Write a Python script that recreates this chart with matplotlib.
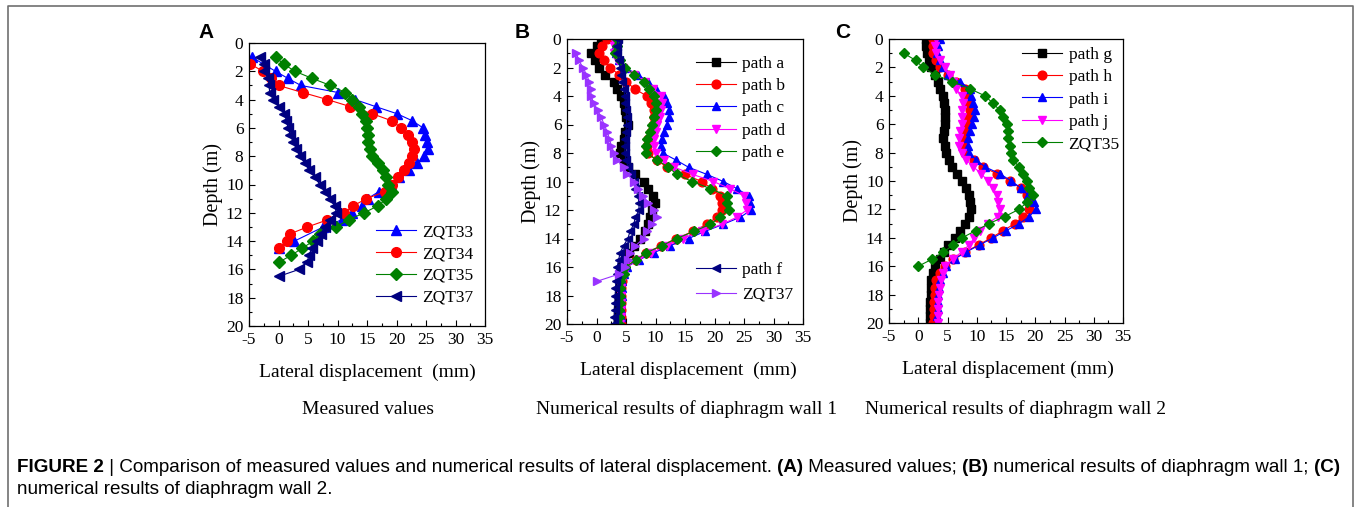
import matplotlib
matplotlib.use("Agg")
import matplotlib.pyplot as plt
from matplotlib.ticker import MultipleLocator
from matplotlib.lines import Line2D

plt.rcParams['font.family'] = ['Liberation Serif', 'DejaVu Serif']
plt.rcParams['axes.unicode_minus'] = False

W, H = 1356, 507

# ---------------- data ----------------
DEPTH_FULL = [0, 0.5, 1, 1.5, 2, 2.5, 3, 3.5, 4, 4.5, 5, 5.5, 6, 6.5, 7, 7.5, 8, 8.5, 9, 9.5,
              10, 10.5, 11, 11.5, 12, 12.5, 13, 13.5, 14, 14.5, 15, 15.5, 16, 16.5, 17, 17.5,
              18, 18.5, 19, 19.5, 20]

# Panel A: measured values
A_zqt33_depth = [1, 2, 2.5, 3, 3.5, 4, 4.5, 5, 5.5, 6, 6.5, 7, 7.5, 8, 8.5, 9, 9.5, 10, 10.5,
                 11, 11.5, 12, 12.5, 13, 14, 14.5]
A_zqt33 = [-4.5, -0.5, 1.6, 3.8, 10.1, 13.0, 16.5, 20.1, 22.7, 24.5, 24.8, 25.2, 25.3, 24.6,
           23.5, 22.2, 20.5, 19.1, 17.0, 15.1, 14.2, 12.4, 10.7, 7.6, 2.7, 0.0]
A_zqt34_depth = [1.5, 2, 2.5, 3, 3.5, 4, 4.5, 5, 5.5, 6, 6.5, 7, 7.5, 8, 8.5, 9, 9.5, 10, 10.5,
                 11, 11.5, 12, 12.5, 13, 13.5, 14, 14.5]
A_zqt34 = [-4.75, -2.6, -1.2, 0.0, 4.1, 8.3, 12.2, 15.9, 19.2, 20.8, 22.0, 22.7, 22.9, 22.7,
           22.1, 21.2, 20.3, 19.2, 18.1, 14.9, 12.7, 11.1, 8.3, 4.9, 1.9, 1.4, 0.1]
A_zqt35_depth = [1, 1.5, 2, 2.5, 3, 3.5, 4, 4.5, 5, 5.5, 6, 6.5, 7, 7.5, 8, 8.5, 9, 9.5, 10,
                 10.5, 11, 11.5, 12, 12.5, 13, 13.5, 14, 14.5, 15, 15.5]
A_zqt35 = [-0.5, 0.9, 2.8, 5.7, 8.8, 11.35, 12.5, 13.7, 14.2, 14.9, 15.0, 15.2, 15.2, 15.5,
           15.9, 16.9, 17.7, 18.2, 18.6, 19.2, 18.3, 16.9, 14.5, 11.9, 9.7, 7.1, 5.9, 4.0, 2.2, 0.0]
A_zqt37_depth = [1, 1.5, 2, 2.5, 3, 3.5, 4, 4.5, 5, 5.5, 6, 6.5, 7, 7.5, 8, 8.5, 9, 9.5, 10,
                 10.5, 11, 11.5, 12, 12.5, 13, 13.5, 14, 14.5, 15, 15.5, 16, 16.5]
A_zqt37 = [-3.2, -2.5, -2.4, -1.75, -1.6, -1.5, -0.9, 0.1, 1.0, 1.35, 1.6, 2.0, 2.5, 3.05,
           3.6, 4.5, 5.2, 6.2, 7.0, 7.85, 8.7, 9.5, 9.8, 8.7, 7.8, 7.2, 6.5, 5.6, 5.2, 4.8, 3.5, 0.0]

# Panel B: numerical results of diaphragm wall 1
B_path_a = [0.7, 0.0, -0.9, -0.3, 0.4, 1.5, 2.9, 3.5, 4.2, 4.6, 4.9, 5.0, 5.3, 4.9, 4.6, 4.2,
            4.0, 4.6, 5.4, 6.6, 8.0, 8.7, 9.6, 9.9, 9.4, 9.1, 8.8, 8.3, 7.3, 6.3, 5.5, 4.8,
            4.3, 4.0, 3.9, 3.9, 3.8, 3.8, 3.7, 3.7, 3.6]
B_path_b = [1.8, 0.9, 0.5, 1.2, 2.3, 3.8, 5.0, 6.5, 8.5, 9.3, 9.7, 9.8, 9.6, 9.2, 8.8, 8.6,
            8.7, 10.2, 12.0, 15.0, 17.8, 19.6, 21.0, 21.3, 21.3, 20.4, 18.7, 16.4, 13.5, 11.0,
            8.4, 6.7, 4.9, 4.5, 4.3, 4.2, 4.2, 4.2, 4.1, 4.1, 4.1]
B_path_c = [3.3, 3.2, 3.3, 3.8, 4.8, 7.0, 8.8, 10.1, 11.5, 12.0, 12.3, 12.3, 11.9, 11.4, 11.1,
            11.0, 11.2, 13.5, 15.6, 18.7, 21.5, 23.8, 25.8, 26.1, 26.2, 24.4, 21.5, 18.4, 15.6,
            12.5, 9.7, 7.2, 5.1, 4.7, 4.4, 4.3, 4.3, 4.2, 4.2, 4.1, 4.1]
B_path_d = [2.8, 2.9, 3.0, 3.5, 4.5, 6.3, 8.3, 9.6, 11.0, 11.1, 11.0, 10.7, 10.3, 10.0, 9.7,
            9.7, 10.0, 11.4, 13.2, 16.3, 19.8, 22.6, 25.0, 25.3, 25.5, 23.8, 21.3, 17.8, 14.6,
            12.0, 9.3, 7.0, 5.0, 4.6, 4.3, 4.2, 4.2, 4.2, 4.1, 4.1, 4.0]
B_path_e = [3.4, 3.4, 3.2, 4.0, 4.9, 6.4, 8.0, 8.85, 9.7, 10.0, 10.1, 9.8, 9.4, 9.0, 8.6, 8.4,
            8.4, 10.3, 12.2, 13.6, 16.2, 19.3, 22.1, 22.2, 22.4, 20.9, 19.3, 16.5, 13.6, 11.1,
            8.45, 6.75, 4.9, 4.6, 4.0, 4.0, 3.9, 3.9, 3.8, 3.8, 3.75]
B_path_f = [3.6, 3.5, 3.5, 3.8, 4.0, 4.2, 4.4, 4.6, 4.8, 4.9, 5.0, 5.1, 5.1, 5.0, 4.9, 4.8,
            4.8, 5.0, 5.4, 5.8, 6.3, 6.6, 7.0, 7.2, 7.2, 6.6, 6.3, 5.7, 5.3, 4.6, 4.0, 3.75,
            3.5, 3.4, 3.3, 3.2, 3.2, 3.1, 3.1, 3.0, 3.0]
B_zqt37_depth = [1, 1.5, 2, 2.5, 3, 3.5, 4, 4.5, 5, 5.5, 6, 6.5, 7, 7.5, 8, 8.5, 9, 9.5, 10,
                 10.5, 11, 11.5, 12, 12.5, 13, 13.5, 14, 14.5, 15, 15.5, 16, 16.5, 17]
B_zqt37 = [-3.4, -3.0, -2.3, -1.7, -1.2, -1.0, -0.9, -0.5, 0.2, 0.8, 1.3, 1.8, 2.2, 2.5, 3.0,
           3.5, 4.6, 5.2, 6.4, 7.0, 7.9, 8.8, 9.8, 10.3, 9.4, 8.6, 8.0, 6.6, 5.7, 5.3, 4.9, 3.8, 0.1]

# Panel C: numerical results of diaphragm wall 2
C_path_g = [1.4, 1.4, 1.5, 1.8, 2.1, 2.8, 3.4, 3.8, 4.2, 4.4, 4.5, 4.5, 4.5, 4.4, 4.2, 4.5,
            4.7, 5.25, 5.8, 6.7, 7.5, 8.1, 8.7, 8.9, 9.0, 8.7, 8.05, 7.1, 6.2, 5.1, 4.4, 3.7,
            2.8, 2.6, 2.25, 2.1, 2.1, 2.0, 2.0, 2.0, 2.0]
C_path_h = [2.6, 2.5, 2.6, 3.0, 3.8, 5.0, 6.5, 8.0, 8.4, 8.6, 8.8, 8.5, 8.2, 7.8, 7.6, 7.6,
            8.0, 9.6, 11.0, 13.5, 15.7, 17.5, 18.6, 19.0, 19.0, 17.9, 16.5, 14.5, 12.5, 10.3,
            8.0, 6.0, 4.5, 3.8, 3.0, 2.9, 2.8, 2.7, 2.7, 2.7, 2.6]
C_path_i = [3.7, 3.4, 3.2, 3.7, 4.2, 5.1, 7.1, 8.8, 9.1, 9.4, 9.7, 9.5, 9.2, 8.8, 8.5, 8.5,
            8.7, 9.9, 11.4, 14.0, 15.9, 17.6, 18.8, 19.8, 20.1, 19.0, 17.3, 15.0, 12.8, 10.5,
            8.2, 6.2, 4.8, 4.2, 3.7, 3.5, 3.4, 3.3, 3.3, 3.2, 3.2]
C_path_j = [3.0, 2.9, 3.0, 3.8, 4.5, 5.4, 6.0, 6.4, 7.4, 7.6, 7.5, 7.5, 7.4, 7.1, 6.9, 7.0,
            7.4, 8.2, 9.4, 10.8, 11.9, 12.8, 13.4, 13.6, 13.9, 13.6, 11.9, 10.5, 9.6, 8.7, 7.4,
            5.9, 4.5, 4.2, 3.9, 3.7, 3.5, 3.4, 3.4, 3.3, 3.3]
C_zqt35_depth = [1, 1.5, 2, 2.5, 3, 3.5, 4, 4.5, 5, 5.5, 6, 6.5, 7, 7.5, 8, 8.5, 9, 9.5, 10,
                 10.5, 11, 11.5, 12, 12.5, 13, 13.5, 14, 14.5, 15, 15.5, 16]
C_zqt35 = [-2.5, -0.45, 0.8, 2.8, 5.8, 8.8, 11.4, 12.7, 13.9, 14.5, 15.2, 15.35, 15.35, 15.6,
           15.9, 16.2, 17.2, 17.9, 18.6, 18.9, 19.6, 18.6, 17.2, 14.8, 12.1, 9.8, 7.5, 6.0,
           4.3, 2.4, 0.0]

X_TICKS = [-5, 0, 5, 10, 15, 20, 25, 30, 35]
Y_TICKS = [0, 2, 4, 6, 8, 10, 12, 14, 16, 18, 20]
XLABELS = ["Lateral displacement  (mm)", "Lateral displacement  (mm)", "Lateral displacement (mm)"]
SUBTITLES = ["Measured values", "Numerical results of diaphragm wall 1",
             "Numerical results of diaphragm wall 2"]
PANEL_LETTERS = ["A", "B", "C"]

# ---------------- figure ----------------
fig = plt.figure(figsize=(W / 100, H / 100), dpi=100)


def px_rect(l, t, r, b):
    return [l / W, 1 - b / H, (r - l) / W, (b - t) / H]


def style(ax):
    ax.set_xlim(-5, 35)
    ax.set_ylim(20, 0)
    ax.set_xticks(X_TICKS)
    ax.set_yticks(Y_TICKS)
    ax.xaxis.set_minor_locator(MultipleLocator(2.5))
    ax.yaxis.set_minor_locator(MultipleLocator(1))
    ax.tick_params(which='both', direction='in', top=False, right=False, labelsize=12.5,
                   width=0.8)
    ax.tick_params(which='major', length=4, pad=4)
    ax.tick_params(which='minor', length=2.5)
    for s in ax.spines.values():
        s.set_linewidth(0.9)
    ax.set_ylabel("Depth (m)", fontsize=14.5, labelpad=2)


axA = fig.add_axes(px_rect(249, 43, 485, 326))
axB = fig.add_axes(px_rect(567, 39, 803, 324))
axC = fig.add_axes(px_rect(889, 39, 1123, 323))

lw = 0.8
msA = 7
ms = 6.3

axA.plot(A_zqt33, A_zqt33_depth, '-', color='#0000FF', marker='^', ms=msA, lw=lw, label='ZQT33')
axA.plot(A_zqt34, A_zqt34_depth, '-', color='#FF0000', marker='o', ms=msA, lw=lw, label='ZQT34')
axA.plot(A_zqt35, A_zqt35_depth, '-', color='#008000', marker='D', ms=msA * 0.85, lw=lw, label='ZQT35')
axA.plot(A_zqt37, A_zqt37_depth, '-', color='#000080', marker='<', ms=msA, lw=lw, label='ZQT37')

hb = []
hb.append(axB.plot(B_path_a, DEPTH_FULL, '-', color='#000000', marker='s', ms=ms * 0.85, lw=lw, label='path a')[0])
hb.append(axB.plot(B_path_b, DEPTH_FULL, '-', color='#FF0000', marker='o', ms=ms, lw=lw, label='path b')[0])
hb.append(axB.plot(B_path_c, DEPTH_FULL, '-', color='#0000FF', marker='^', ms=ms, lw=lw, label='path c')[0])
hb.append(axB.plot(B_path_d, DEPTH_FULL, '-', color='#FF00FF', marker='v', ms=ms, lw=lw, label='path d')[0])
hb.append(axB.plot(B_path_e, DEPTH_FULL, '-', color='#008000', marker='D', ms=ms * 0.85, lw=lw, label='path e')[0])
hb2 = []
hb2.append(axB.plot(B_path_f, DEPTH_FULL, '-', color='#000080', marker='<', ms=ms, lw=lw, label='path f')[0])
hb2.append(axB.plot(B_zqt37, B_zqt37_depth, '-', color='#9933FF', marker='>', ms=ms, lw=lw, label='ZQT37')[0])

axC.plot(C_path_g, DEPTH_FULL, '-', color='#000000', marker='s', ms=ms * 0.85, lw=lw, label='path g')
axC.plot(C_path_h, DEPTH_FULL, '-', color='#FF0000', marker='o', ms=ms, lw=lw, label='path h')
axC.plot(C_path_i, DEPTH_FULL, '-', color='#0000FF', marker='^', ms=ms, lw=lw, label='path i')
axC.plot(C_path_j, DEPTH_FULL, '-', color='#FF00FF', marker='v', ms=ms, lw=lw, label='path j')
axC.plot(C_zqt35, C_zqt35_depth, '-', color='#008000', marker='D', ms=ms * 0.85, lw=lw, label='ZQT35')

for ax in (axA, axB, axC):
    style(ax)

leg_kw = dict(frameon=False, fontsize=12.5, handlelength=2.3, handletextpad=0.4,
              borderpad=0, borderaxespad=0, loc='upper left')
axA.legend(bbox_to_anchor=(0.537, 0.359), labelspacing=0.32, **leg_kw)
l1 = axB.legend(handles=hb, bbox_to_anchor=(0.545, 0.941), labelspacing=0.35, **leg_kw)
axB.add_artist(l1)
axB.legend(handles=hb2, bbox_to_anchor=(0.545, 0.217), labelspacing=0.48, **leg_kw)
axC.legend(bbox_to_anchor=(0.567, 0.972), labelspacing=0.35, **leg_kw)

# x-labels and subtitles
for cx, cy, t in [(367, 372, XLABELS[0]), (688, 370, XLABELS[1]), (1008, 369, XLABELS[2])]:
    fig.text(cx / W, 1 - cy / H, t, ha='center', va='center', fontsize=14)
for cx, cy, t in [(368, 410, SUBTITLES[0]), (687, 409, SUBTITLES[1]), (1016, 409, SUBTITLES[2])]:
    fig.text(cx / W, 1 - cy / H, t, ha='center', va='center', fontsize=14)

# panel letters
for cx, cy, t in [(206, 33, PANEL_LETTERS[0]), (522, 33, PANEL_LETTERS[1]), (843, 33, PANEL_LETTERS[2])]:
    fig.text(cx / W, 1 - cy / H, t, ha='center', va='center', fontsize=15,
             fontweight='bold', family=['Liberation Sans', 'DejaVu Sans'])

# outer frame (open at the bottom)
frame_c = '#6f6f6f'
fig.add_artist(Line2D([8 / W, 8 / W, 1353 / W, 1353 / W], [0, 1 - 6 / H, 1 - 6 / H, 0],
                      transform=fig.transFigure, color=frame_c, lw=1.2))

# caption
cap_pieces = [("FIGURE 2", 'bold'),
              (" | Comparison of measured values and numerical results of lateral displacement. ", 'normal'),
              ("(A)", 'bold'), (" Measured values; ", 'normal'),
              ("(B)", 'bold'), (" numerical results of diaphragm wall 1; ", 'normal'),
              ("(C)", 'bold')]
cap_fam = ['Liberation Sans', 'DejaVu Sans']
renderer = fig.canvas.get_renderer()


def draw_caption(size):
    arts = []
    x = 17
    for txt, wt in cap_pieces:
        t = fig.text(x / W, 1 - 467 / H, txt, ha='left', va='center', fontsize=size,
                     fontweight=wt, family=cap_fam)
        bb = t.get_window_extent(renderer=renderer)
        x += bb.width
        arts.append(t)
    return arts, x


arts, xend = draw_caption(12)
target = 1347 - 17
size = 12 * target / (xend - 17)
for a in arts:
    a.remove()
arts, xend = draw_caption(size)
fig.text(17 / W, 1 - 490 / H, "numerical results of diaphragm wall 2.", ha='left', va='center',
         fontsize=size, family=cap_fam)

fig.savefig("out.png", dpi=100)
